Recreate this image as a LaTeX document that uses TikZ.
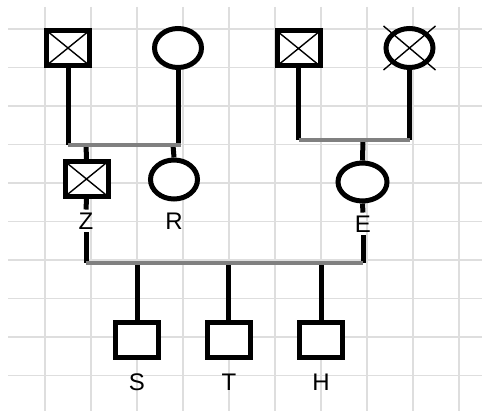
\documentclass[tikz,border=0pt]{standalone}
\usepackage{fontspec}
\setmainfont{Liberation Sans}
\usetikzlibrary{shapes.geometric,calc}
\begin{document}
\begin{tikzpicture}[x=1pt,y=-1pt,
  gridline/.style={draw=black!13, line width=1.2pt},
  sq/.style={draw, line width=5pt, rectangle, minimum width=43pt, minimum height=35pt, inner sep=0pt, fill=white},
  crsq/.style={sq, path picture={\draw[line width=1.4pt] (path picture bounding box.north west) -- (path picture bounding box.south east) (path picture bounding box.north east) -- (path picture bounding box.south west);}},
  circ/.style={draw, line width=5pt, ellipse, minimum width=47pt, minimum height=39pt, inner sep=0pt, fill=white},
  lbl/.style={font=\fontsize{24}{28}\selectfont, inner sep=3pt},
  kin/.style={line width=5pt},
  mate/.style={line width=4.5pt, draw=black!50},
  cross/.style={line width=1.4pt},
]
\useasboundingbox (0,0) rectangle (482,411);
% grid
\foreach \i in {0,...,9} {
  \draw[gridline] ({45+46*\i},7) -- ({45+46*\i},411);
  \draw[gridline] (8,{29+38.5*\i}) -- (482,{29+38.5*\i});
}
% generation I
\node[crsq] (f1) at (68,48) {};
\node[circ] (m1) at (178,48) {};
\node[crsq] (f2) at (298.5,48.5) {};
\node[circ] (m2) at (409.5,48) {};
\draw[cross] (m2.west |- m2.north) -- (m2.east |- m2.south)
             (m2.east |- m2.north) -- (m2.west |- m2.south);
% generation II
\node[crsq] (z) at (86.5,179) {};
\node[circ] (r) at (174,179.5) {};
\node[circ, minimum width=49pt, minimum height=38pt] (e) at (362.5,182) {};
\node[lbl] (zl) at (86,221) {Z};
\node[lbl] (rl) at (174,221) {R};
\node[lbl] (el) at (363,224) {E};
% generation III
\node[sq] (s) at (137,340) {};
\node[sq] (t) at (228.5,340) {};
\node[sq] (h) at (321,340) {};
\node[lbl] (sl) at (137,382) {S};
\node[lbl] (tl) at (229,382) {T};
\node[lbl] (hl) at (321,382) {H};
% junction points
\coordinate (j1l) at (68,145);
\coordinate (j1r) at (178,145);
\coordinate (j1e) at (181,145);
\coordinate (c1z) at (86,145);
\coordinate (c1r) at (173,145);
\coordinate (j2l) at (298.5,140);
\coordinate (j2r) at (409.5,140);
\coordinate (c2) at (363,140);
\coordinate (zb) at (86,263);
\coordinate (eb) at (363,263);
\coordinate (cs) at (137,263);
\coordinate (ct) at (228.5,263);
\coordinate (ch) at (321,263);
% connectors
\draw[kin] (f1.south) -- (j1l);
\draw[kin] (m1.south) -- (j1r);
\draw[kin] (c1z) -- (z.north);
\draw[kin] (c1r) -- (r.north);
\draw[mate] (j1l) -- (j1e);
\draw[kin] (f2.south) -- (j2l);
\draw[kin] (m2.south) -- (j2r);
\draw[kin] (c2) -- (e.north);
\draw[mate] (j2l) -- (j2r);
\draw[kin] (z.south) -- (zl.north);
\draw[kin] (zl.south) -- (zb);
\draw[kin] (e.south) -- (el.north);
\draw[kin] (el.south) -- (eb);
\draw[kin] (cs) -- (s.north);
\draw[kin] (ct) -- (t.north);
\draw[kin] (ch) -- (h.north);
\draw[mate] (zb) -- (eb);
\end{tikzpicture}
\end{document}
